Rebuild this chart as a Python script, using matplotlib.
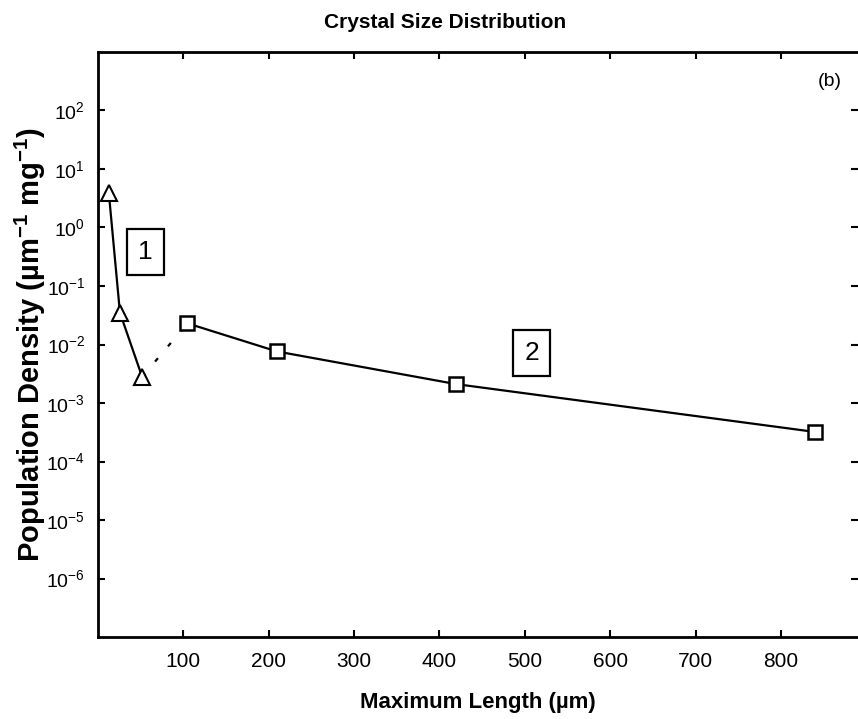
import matplotlib
matplotlib.use("Agg")
import matplotlib.pyplot as plt
from matplotlib.ticker import FixedLocator, FixedFormatter

plt.rcParams['font.family'] = ['Liberation Sans', 'DejaVu Sans']
plt.rcParams['mathtext.default'] = 'regular'

# population 1 (triangles) and population 2 (squares)
len_1 = [13, 26, 52]
dens_1 = [3.9, 0.035, 0.0028]
len_2 = [105, 210, 420, 840]
dens_2 = [0.023, 0.0076, 0.0021, 0.00032]

x_ticks = [100, 200, 300, 400, 500, 600, 700, 800]
y_exps = [-6, -5, -4, -3, -2, -1, 0, 1, 2]

fig = plt.figure(figsize=(8.58, 7.19), dpi=100)
ax = fig.add_axes([0.1139, 0.114, 0.886, 0.8137])

ax.plot(len_1, dens_1, color='black', lw=1.6, marker='^', ms=12,
        mfc='white', mec='black', mew=1.5, zorder=3)
ax.plot(len_2, dens_2, color='black', lw=1.6, marker='s', ms=10,
        mfc='white', mec='black', mew=1.8, zorder=3)
# dashed link between the two populations
ax.plot([len_1[-1], len_2[0]], [dens_1[-1], dens_2[0]], color='black',
        lw=1.6, dashes=(2, 7), zorder=2)

ax.set_yscale('log')
ax.set_xlim(0, 890)
ax.set_ylim(1e-7, 1e3)

ax.xaxis.set_major_locator(FixedLocator(x_ticks))
ax.yaxis.set_major_locator(FixedLocator([10.0 ** e for e in y_exps]))
ax.yaxis.set_major_formatter(FixedFormatter(['10$^{%d}$' % e for e in y_exps]))
ax.yaxis.set_minor_locator(FixedLocator([]))
ax.tick_params(direction='in', length=5, width=1.5, top=True, right=True)
ax.tick_params(axis='x', pad=11, labelsize=15)
ax.tick_params(axis='y', pad=9, labelsize=14)
for s in ax.spines.values():
    s.set_linewidth(2)
ax.spines['right'].set_visible(False)

ax.set_xlabel('Maximum Length (µm)', fontsize=16, fontweight='bold', labelpad=15)
ax.set_ylabel('Population Density (µm$^{-1}$ mg$^{-1}$)', fontsize=21,
              fontweight='bold')
ax.yaxis.set_label_coords(-0.066, 0.5)
fig.text(445 / 858, 1 - 22 / 719, 'Crystal Size Distribution', fontsize=15,
         fontweight='bold', ha='center', va='center')

box = dict(boxstyle='square,pad=0.42', fc='white', ec='black', lw=1.6)
ax.text(56, 0.38, '1', fontsize=19, ha='center', va='center', bbox=box)
ax.text(508, 0.0072, '2', fontsize=19, ha='center', va='center', bbox=box)
ax.text(0.963, 0.949, '(b)', transform=ax.transAxes, fontsize=14,
        ha='center', va='center')

fig.savefig('out.png', dpi=100)
